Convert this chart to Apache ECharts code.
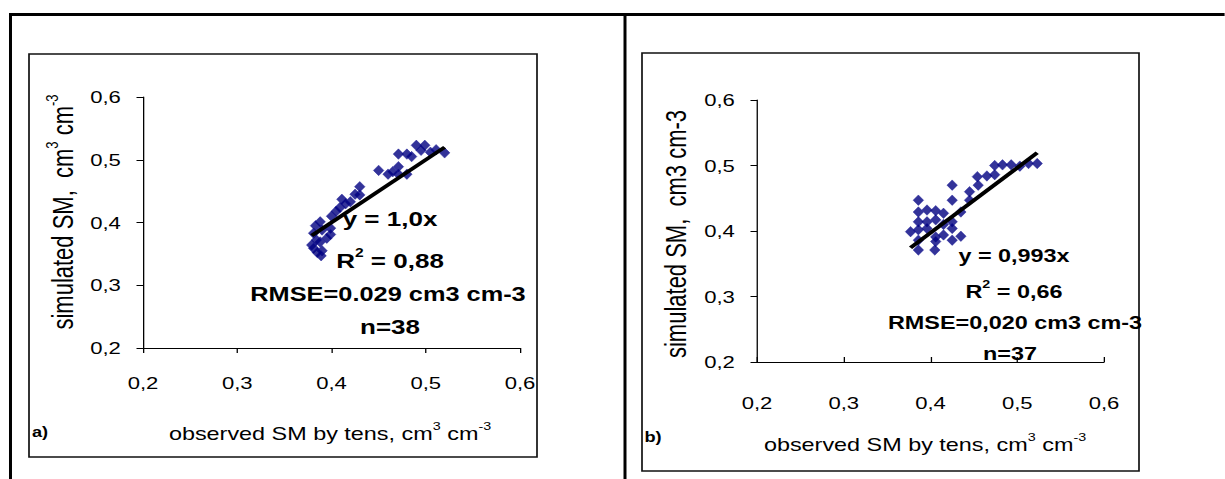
<!DOCTYPE html>
<html>
<head>
<meta charset="utf-8">
<script src="https://cdn.jsdelivr.net/npm/echarts@6/dist/echarts.min.js"></script>
<style>
  html, body { margin: 0; padding: 0; background: #fff; }
  #wrap { position: absolute; left: 0; top: 0; width: 1225px; height: 479px; overflow: hidden; background: #fff; }
  /* the whole figure is drawn narrow and widened horizontally */
  #chart { position: absolute; left: 0; top: 0; height: 479px; transform-origin: 0 0; }
</style>
</head>
<body>
<div id="wrap"><div id="chart"></div></div>
<script>
// horizontal widening of the whole figure
const S = 1.3;
const W = 1225 / S;
const X = px => px / S;

// shared axis ticks
const axisTicks = [0.2, 0.3, 0.4, 0.5, 0.6];

// panel a) observed vs simulated soil moisture
const obsA = [0.490, 0.499, 0.511, 0.520, 0.471, 0.480, 0.450, 0.460, 0.471, 0.471,
              0.480, 0.430, 0.430, 0.411, 0.420, 0.409, 0.400, 0.388, 0.381, 0.390,
              0.399, 0.379, 0.388, 0.381, 0.390, 0.389, 0.399, 0.384, 0.385, 0.395,
              0.383, 0.405, 0.415, 0.425, 0.465, 0.485, 0.495, 0.505];
const simA = [0.523, 0.523, 0.516, 0.511, 0.509, 0.509, 0.483, 0.477, 0.489, 0.477,
              0.477, 0.457, 0.444, 0.437, 0.433, 0.424, 0.410, 0.401, 0.383, 0.388,
              0.391, 0.364, 0.369, 0.359, 0.355, 0.347, 0.381, 0.372, 0.352, 0.375,
              0.395, 0.418, 0.430, 0.445, 0.481, 0.505, 0.515, 0.512];
const slopeA = 1.0;

// panel b) observed vs simulated soil moisture
const obsB = [0.523, 0.513, 0.503, 0.493, 0.483, 0.474, 0.465, 0.454, 0.474, 0.445,
              0.445, 0.425, 0.425, 0.435, 0.425, 0.425, 0.435, 0.425, 0.415, 0.415,
              0.406, 0.406, 0.406, 0.406, 0.405, 0.396, 0.396, 0.386, 0.386, 0.386,
              0.386, 0.386, 0.377, 0.396, 0.415, 0.386, 0.455];
const simB = [0.503, 0.503, 0.499, 0.501, 0.501, 0.500, 0.484, 0.483, 0.486, 0.460,
              0.447, 0.470, 0.447, 0.429, 0.414, 0.404, 0.392, 0.386, 0.394, 0.427,
              0.431, 0.417, 0.391, 0.384, 0.371, 0.432, 0.414, 0.447, 0.429, 0.414,
              0.402, 0.371, 0.399, 0.404, 0.410, 0.386, 0.470];
const slopeB = 0.993;

const FONT = '"Liberation Sans", Arial, sans-serif';
const fmt = v => v.toFixed(1).replace('.', ',');

function pairs(xs, ys) { return xs.map((x, i) => [x, ys[i]]); }
function trend(xs, k) {
  const lo = Math.min(...xs), hi = Math.max(...xs);
  return [[lo, k * lo], [hi, k * hi]];
}

function xAxisOf(gridIndex, margin, inside) {
  return {
    type: 'value', gridIndex, min: axisTicks[0], max: axisTicks[axisTicks.length - 1], interval: 0.1,
    axisLine: { show: true, onZero: false, lineStyle: { color: '#000', width: 1 } },
    axisTick: { show: true, inside, length: 5, lineStyle: { color: '#000' } },
    splitLine: { show: false },
    axisLabel: { formatter: fmt, color: '#000', fontFamily: FONT, fontSize: 17, margin }
  };
}
function yAxisOf(gridIndex) {
  return {
    type: 'value', gridIndex, min: axisTicks[0], max: axisTicks[axisTicks.length - 1], interval: 0.1,
    axisLine: { show: true, onZero: false, lineStyle: { color: '#000', width: 1 } },
    axisTick: { show: true, length: 5, lineStyle: { color: '#000' } },
    splitLine: { show: false },
    axisLabel: { formatter: fmt, color: '#000', fontFamily: FONT, fontSize: 17, margin: 17 }
  };
}

const diamond = { type: 'scatter', symbol: 'diamond', symbolSize: [10.5 / S, 10.5],
                  itemStyle: { color: '#000080', borderColor: '#1a1a9a', borderWidth: 0.5 }, z: 3 };
const trendStyle = { type: 'line', symbol: 'none', lineStyle: { color: '#000', width: 3.5 }, z: 4, silent: true };

// text helpers
function txt(text, cx, cy, size, bold, rotation) {
  return {
    type: 'text', x: X(cx), y: cy, z: 10, rotation: rotation || 0,
    style: { text, fill: '#000', align: 'center', verticalAlign: 'middle',
      font: (bold ? 'bold ' : '') + size + 'px ' + FONT }
  };
}
function rich(text, cx, cy, size, bold, rotation) {
  const w = bold ? 'bold' : 'normal';
  return {
    type: 'text', x: X(cx), y: cy, z: 10, rotation: rotation || 0,
    style: {
      text, align: 'center', verticalAlign: 'middle',
      rich: {
        b: { fontFamily: FONT, fontWeight: w, fontSize: size, color: '#000', lineHeight: size + 4, verticalAlign: 'bottom' },
        s: { fontFamily: FONT, fontWeight: w, fontSize: Math.round(size * 0.6), color: '#000', lineHeight: size * 0.6, verticalAlign: 'top' }
      }
    }
  };
}
function hline(x1, x2, y, w) {
  return { type: 'line', z: 1, shape: { x1: X(x1), y1: y, x2: X(x2), y2: y }, style: { stroke: '#000', lineWidth: w } };
}
function vline(x, y1, y2, w) {
  return { type: 'line', z: 1, shape: { x1: X(x), y1, x2: X(x), y2 }, style: { stroke: '#000', lineWidth: w / S } };
}
function box(x1, y1, x2, y2) {
  return { type: 'rect', z: 1, shape: { x: X(x1), y: y1, width: X(x2) - X(x1), height: y2 - y1 },
           style: { fill: 'none', stroke: '#111', lineWidth: 1.3 } };
}

const chartEl = document.getElementById('chart');
chartEl.style.width = W + 'px';
chartEl.style.transform = 'scaleX(' + S + ')';
const chart = echarts.init(chartEl, null, { renderer: 'svg', width: W, height: 479 });

chart.setOption({
  backgroundColor: '#fff',
  animation: false,
  grid: [
    { left: X(143), top: 97, width: X(520) - X(143), height: 251 },
    { left: X(757), top: 100, width: X(1104) - X(757), height: 262 }
  ],
  xAxis: [xAxisOf(0, 26, false), xAxisOf(1, 32, true)],
  yAxis: [yAxisOf(0), yAxisOf(1)],
  series: [
    Object.assign({}, diamond, { xAxisIndex: 0, yAxisIndex: 0, data: pairs(obsA, simA) }),
    Object.assign({}, trendStyle, { xAxisIndex: 0, yAxisIndex: 0, data: trend(obsA, slopeA) }),
    Object.assign({}, diamond, { xAxisIndex: 1, yAxisIndex: 1, data: pairs(obsB, simB) }),
    Object.assign({}, trendStyle, { xAxisIndex: 1, yAxisIndex: 1, data: trend(obsB, slopeB) })
  ],
  graphic: [
    // table frame
    hline(10, 1225, 14.5, 3),
    vline(10.5, 13, 479, 3),
    vline(625, 13, 479, 3),
    // chart frames
    box(29, 54, 537, 457),
    box(642, 53, 1139, 471),

    // panel a) texts
    rich('{b|simulated SM,  cm}{s|3}{b| cm}{s|-3}', 60, 212, 22, false, Math.PI / 2),
    rich('{b|observed SM by tens, cm}{s|3}{b| cm}{s|-3}', 330, 432, 18, false),
    txt('a)', 40, 432, 14, true),
    txt('y = 1,0x', 390, 219, 20, true),
    rich('{b|R}{s|2}{b| = 0,88}', 390, 259, 20, true),
    txt('RMSE=0.029 cm3 cm-3', 388, 295, 19.5, true),
    txt('n=38', 390, 327, 20, true),

    // panel b) texts
    txt('simulated SM,  cm3 cm-3', 676, 234, 22, false, Math.PI / 2),
    rich('{b|observed SM by tens, cm}{s|3}{b| cm}{s|-3}', 925, 443, 18, false),
    txt('b)', 653, 437, 14, true),
    txt('y = 0,993x', 1014, 256, 18, true),
    rich('{b|R}{s|2}{b| = 0,66}', 1014, 290, 18, true),
    txt('RMSE=0,020 cm3 cm-3', 1015, 323, 18, true),
    txt('n=37', 1010, 354, 18, true)
  ]
});
</script>
</body>
</html>
